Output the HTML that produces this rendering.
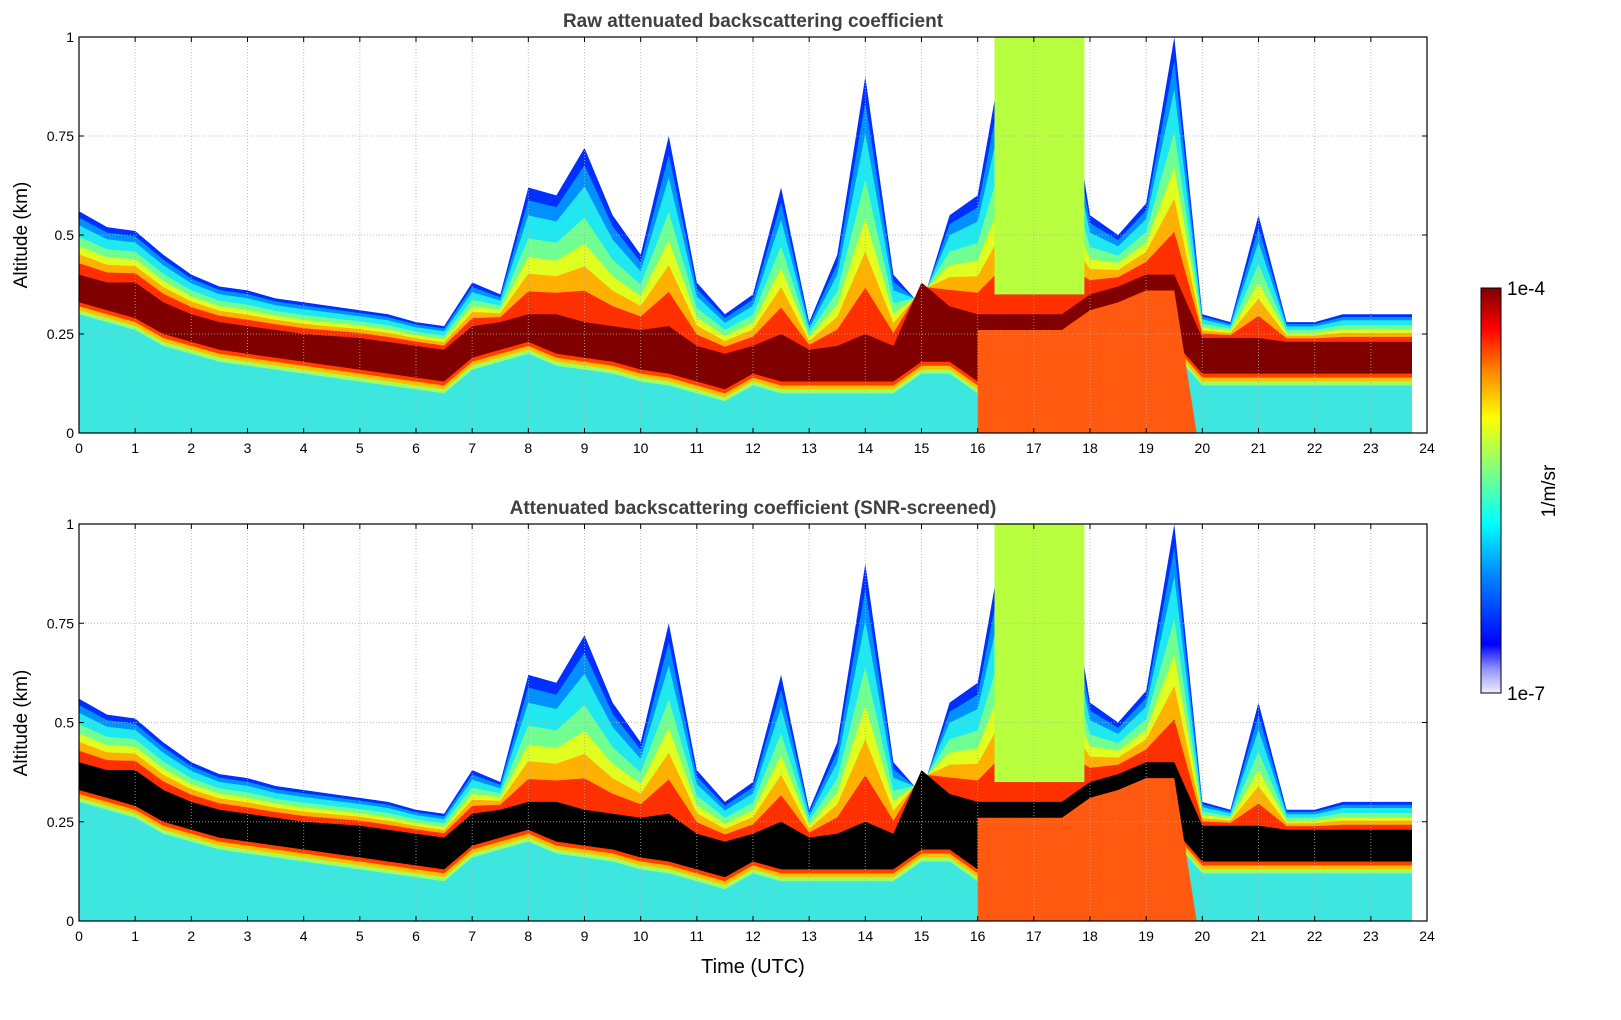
<!DOCTYPE html>
<html><head><meta charset="utf-8">
<style>
body{margin:0;background:#fff;}
svg{display:block;font-family:"Liberation Sans","DejaVu Sans",sans-serif;}
</style></head>
<body>
<svg id="chart" width="1621" height="1020" viewBox="0 0 1621 1020" xmlns="http://www.w3.org/2000/svg">
<defs>
<clipPath id="clipTop"><rect x="79" y="37" width="1333" height="396"/></clipPath>
<clipPath id="clipBot"><rect x="79" y="524" width="1333" height="397"/></clipPath>
<linearGradient id="jet" x1="0" y1="1" x2="0" y2="0">
<stop offset="0" stop-color="#eeeeff"/><stop offset="0.06" stop-color="#9090ff"/>
<stop offset="0.12" stop-color="#0000ff"/><stop offset="0.3" stop-color="#0090ff"/>
<stop offset="0.42" stop-color="#00ffff"/><stop offset="0.55" stop-color="#80ff80"/>
<stop offset="0.68" stop-color="#ffff00"/><stop offset="0.8" stop-color="#ff8000"/>
<stop offset="0.9" stop-color="#ff0000"/><stop offset="1" stop-color="#800000"/>
</linearGradient>
</defs>
<g id="panels"></g>
<text x="753" y="27" text-anchor="middle" font-size="19" font-weight="bold" fill="#404040">Raw attenuated backscattering coefficient</text>
<text x="753" y="514" text-anchor="middle" font-size="19" font-weight="bold" fill="#404040">Attenuated backscattering coefficient (SNR-screened)</text>
<text transform="translate(27,235) rotate(-90)" text-anchor="middle" font-size="19" fill="#000">Altitude (km)</text>
<text transform="translate(27,723) rotate(-90)" text-anchor="middle" font-size="19" fill="#000">Altitude (km)</text>
<text x="753" y="973" text-anchor="middle" font-size="20" fill="#000">Time (UTC)</text>
<g>
<rect x="1481" y="288" width="20" height="405" fill="url(#jet)" stroke="#000" stroke-width="1"/>
<text x="1507" y="295" font-size="19">1e-4</text>
<text x="1507" y="700" font-size="19">1e-7</text>
<text transform="translate(1555,491) rotate(-90)" text-anchor="middle" font-size="19">1/m/sr</text>
</g>
</svg>
<script>
const times = [];
for (let i = 0; i <= 48; i++) times.push(i * 0.5);
const signalTop = [0.56,0.52,0.51,0.45,0.4,0.37,0.36,0.34,0.33,0.32,0.31,0.3,0.28,0.27,0.38,0.35,0.62,0.6,0.72,0.55,0.45,0.75,0.38,0.3,0.35,0.62,0.28,0.45,0.9,0.4,0.32,0.55,0.6,1,1,1,0.55,0.5,0.58,1,0.3,0.28,0.55,0.28,0.28,0.3,0.3,0.3,0.3];
const layerTop = [0.4,0.38,0.38,0.33,0.3,0.28,0.27,0.26,0.25,0.245,0.24,0.23,0.22,0.21,0.27,0.28,0.3,0.3,0.28,0.27,0.26,0.27,0.22,0.2,0.22,0.25,0.21,0.22,0.25,0.22,0.38,0.32,0.3,0.3,0.3,0.3,0.35,0.37,0.4,0.4,0.24,0.24,0.24,0.23,0.23,0.23,0.23,0.23,0.23];
const layerBottom = [0.3,0.28,0.26,0.22,0.2,0.18,0.17,0.16,0.15,0.14,0.13,0.12,0.11,0.1,0.16,0.18,0.2,0.17,0.16,0.15,0.13,0.12,0.1,0.08,0.12,0.1,0.1,0.1,0.1,0.1,0.15,0.15,0.1,0.12,0.15,0.15,0.18,0.18,0.2,0.2,0.12,0.12,0.12,0.12,0.12,0.12,0.12,0.12,0.12];
const cloudStart = [16.3];
const cloudEnd = [17.9];
const hazeStart = [16.0];
const hazeEnd = [19.9];
const xTicks = [0,1,2,3,4,5,6,7,8,9,10,11,12,13,14,15,16,17,18,19,20,21,22,23,24];
const yTicks = [0,0.25,0.5,0.75,1];
const yTickLabels = ['0','0.25','0.5','0.75','1'];

const X0 = 79, X1 = 1427;
const xs = t => X0 + t / 24 * (X1 - X0);
const NS = 'http://www.w3.org/2000/svg';
const root = document.getElementById('panels');
function mk(tag, attrs, parent) {
  const e = document.createElementNS(NS, tag);
  for (const k in attrs) e.setAttribute(k, attrs[k]);
  parent.appendChild(e);
  return e;
}
function areaPath(ys, heights) {
  let d = 'M' + xs(times[0]) + ',' + ys(0);
  for (let i = 0; i < times.length; i++) d += ' L' + xs(times[i]).toFixed(1) + ',' + ys(Math.min(1.02, heights[i])).toFixed(1);
  d += ' L' + xs(times[times.length - 1]) + ',' + ys(0) + ' Z';
  return d;
}
const upperBands = [[1,'#0030ff'],[0.9,'#0090ff'],[0.78,'#20e8f0'],[0.6,'#70ff90'],[0.45,'#e0ff20'],[0.32,'#ffb000'],[0.18,'#ff3000']];
function panel(base, top, clipId, dark, name) {
  const ys = a => base - a * (base - top);
  const g = mk('g', {'clip-path': 'url(#' + clipId + ')'}, root);
  
  
  upperBands.forEach(b => {
    const h = layerTop.map((lt, i) => lt + b[0] * (signalTop[i] - lt));
    const p = mk('path', {d: areaPath(ys, h), fill: b[1]}, g);
    
    
  });
  const core = mk('path', {d: areaPath(ys, layerTop), fill: dark}, g);
  
  
  [[0.03,'#ff4000'],[0.02,'#ffc000'],[0.01,'#a0ff60']].forEach(b => {
    const p = mk('path', {d: areaPath(ys, layerBottom.map(v => v + b[0])), fill: b[1]}, g);
    
    
  });
  const low = mk('path', {d: areaPath(ys, layerBottom), fill: '#3ee6e0'}, g);
  
  
  hazeStart.forEach((s, k) => {
    const idx = times.map((t, i) => i).filter(i => times[i] >= s && times[i] <= hazeEnd[k]);
    let d = 'M' + xs(s) + ',' + ys(0);
    idx.forEach(i => d += ' L' + xs(times[i]) + ',' + ys(layerTop[i] - 0.04));
    d += ' L' + xs(hazeEnd[k]) + ',' + ys(0) + ' Z';
    const p = mk('path', {d: d, fill: '#ff5a10'}, g);
    
    
  });
  cloudStart.forEach((s, k) => {
    const i = times.findIndex(t => t >= s);
    const r = mk('rect', {x: xs(s), y: ys(1), width: xs(cloudEnd[k]) - xs(s), height: ys(layerTop[i] + 0.05) - ys(1), fill: '#b8ff40'}, g);
    
    
  });
  const grid = mk('g', {stroke: '#b0b0b0', 'stroke-width': 1, 'stroke-dasharray': '1,2', opacity: 0.8}, root);
  
  
  xTicks.forEach(t => mk('line', {x1: xs(t), x2: xs(t), y1: top, y2: base}, grid));
  yTicks.forEach(a => mk('line', {x1: X0, x2: X1, y1: ys(a), y2: ys(a)}, grid));
  const frame = mk('rect', {x: X0, y: top, width: X1 - X0, height: base - top, fill: 'none', stroke: '#000', 'stroke-width': 1.2}, root);
  
  
  const ax = mk('g', {'font-size': 14, fill: '#000'}, root);
  
  
  xTicks.forEach(t => {
    mk('line', {x1: xs(t), x2: xs(t), y1: base, y2: base - 5, stroke: '#000'}, ax);
    mk('line', {x1: xs(t), x2: xs(t), y1: top, y2: top + 5, stroke: '#000'}, ax);
    const tx = mk('text', {x: xs(t), y: base + 20, 'text-anchor': 'middle'}, ax);
    tx.textContent = t;
    
    
  });
  yTicks.forEach((a, i) => {
    mk('line', {x1: X0, x2: X0 + 5, y1: ys(a), y2: ys(a), stroke: '#000'}, ax);
    mk('line', {x1: X1, x2: X1 - 5, y1: ys(a), y2: ys(a), stroke: '#000'}, ax);
    const tx = mk('text', {x: X0 - 5, y: ys(a) + 5, 'text-anchor': 'end'}, ax);
    tx.textContent = yTickLabels[i];
    
    
  });
}
panel(433, 37, 'clipTop', '#800000', 'top-panel');
panel(921, 524, 'clipBot', '#000000', 'bottom-panel');
</script>
</body></html>
